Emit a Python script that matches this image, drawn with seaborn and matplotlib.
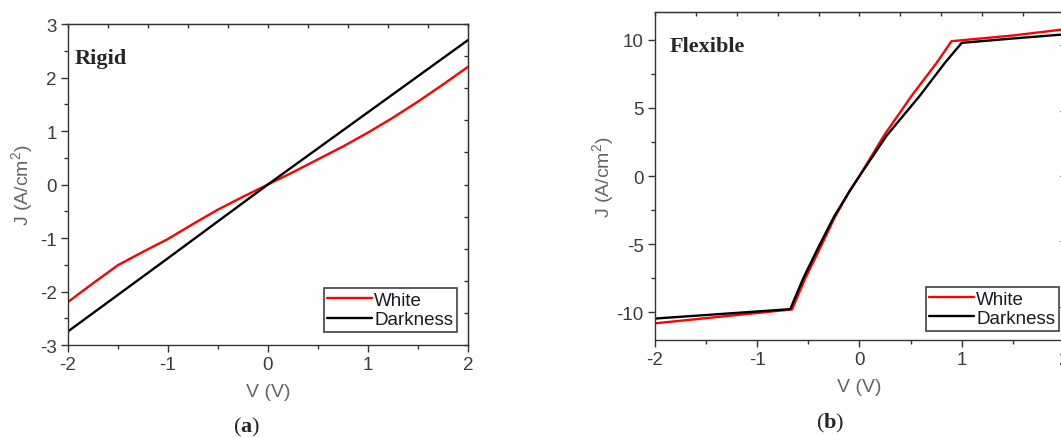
import pandas as pd
import matplotlib.pyplot as plt
import seaborn as sns
import numpy as np
from matplotlib.ticker import MultipleLocator, NullFormatter

# Rigid device (a)
v_rigid_white = [-2, -1.75, -1.5, -1.25, -1, -0.75, -0.5, -0.25, 0, 0.25, 0.5, 0.75, 1, 1.25, 1.5, 1.75, 2]
j_rigid_white = [-2.2, -1.85, -1.51, -1.26, -1.02, -0.74, -0.47, -0.23, 0, 0.23, 0.47, 0.71, 0.97, 1.25, 1.55, 1.87, 2.2]
v_rigid_dark = [-2, -1, 0, 1, 2]
j_rigid_dark = [-2.75, -1.38, 0, 1.35, 2.7]

# Flexible device (b)
v_flex_white = [-2, -1.5, -1, -0.66, -0.53, -0.38, -0.24, -0.1, 0, 0.24, 0.51, 0.755, 0.9, 1.5, 2]
j_flex_white = [-10.8, -10.42, -10.04, -9.78, -7.5, -5.2, -3.0, -1.15, 0, 2.97, 5.88, 8.3, 9.88, 10.3, 10.75]
v_flex_dark = [-2, -1.5, -1, -0.677, -0.55, -0.4, -0.25, -0.1, 0, 0.267, 0.59, 0.836, 1.0, 1.5, 2]
j_flex_dark = [-10.45, -10.19, -9.93, -9.76, -7.5, -5.2, -3.0, -1.15, 0, 2.97, 5.88, 8.3, 9.76, 10.08, 10.38]

sns.set_style("ticks")
plt.rcParams['font.family'] = ['Liberation Sans', 'DejaVu Sans']
plt.rcParams['axes.unicode_minus'] = False
plt.rcParams['mathtext.fontset'] = 'custom'
plt.rcParams['mathtext.rm'] = 'Liberation Sans'
plt.rcParams['mathtext.bf'] = 'Liberation Serif:bold'

tick_col = '#3c3a48'
label_col = '#666666'
spine_col = '#333333'

fig = plt.figure(figsize=(10.61, 4.39), dpi=100)
ax_a = fig.add_axes([0.0638, 0.2118, 0.3773, 0.7312])
ax_b = fig.add_axes([0.6173, 0.2239, 0.3855, 0.7458])


def draw(ax, vw, jw, vd, jd, ypad):
    df = pd.concat([
        pd.DataFrame({"V": vw, "J": jw, "Light": "White"}),
        pd.DataFrame({"V": vd, "J": jd, "Light": "Darkness"}),
    ])
    sns.lineplot(data=df, x="V", y="J", hue="Light", palette={"White": "#ff0000", "Darkness": "#000000"},
                 sort=False, estimator=None, linewidth=1.7, ax=ax)
    for s in ax.spines.values():
        s.set_color(spine_col)
        s.set_linewidth(1.0)
    ax.set_xlim(-2, 2)
    ax.xaxis.set_major_locator(MultipleLocator(1))
    ax.xaxis.set_minor_locator(MultipleLocator(0.5))
    ax.tick_params(which='major', direction='out', length=5, width=1, color=spine_col,
                   labelsize=13.5, labelcolor=tick_col, pad=3)
    ax.tick_params(which='minor', direction='out', length=3, width=1, color=spine_col)
    ax.set_xlabel("V (V)", fontsize=14, color=label_col, labelpad=7)
    ax.set_ylabel("J (A/cm$^2$)", fontsize=14, color=label_col, labelpad=ypad)
    ax.grid(False)
    # inward ticks on the top and right frame
    top = ax.secondary_xaxis('top')
    top.xaxis.set_major_locator(MultipleLocator(0.4))
    top.xaxis.set_major_formatter(NullFormatter())
    top.tick_params(direction='in', length=3, width=1, color=spine_col)
    top.spines['top'].set_color(spine_col)
    right = ax.secondary_yaxis('right')
    return right


r = draw(ax_a, v_rigid_white, j_rigid_white, v_rigid_dark, j_rigid_dark, 3)
ax_a.set_ylim(-3, 3)
ax_a.yaxis.set_major_locator(MultipleLocator(1))
ax_a.yaxis.set_minor_locator(MultipleLocator(0.5))
r.yaxis.set_major_locator(MultipleLocator(0.6))
r.yaxis.set_major_formatter(NullFormatter())
r.tick_params(direction='in', length=3, width=1, color=spine_col)
r.spines['right'].set_color(spine_col)

r = draw(ax_b, v_flex_white, j_flex_white, v_flex_dark, j_flex_dark, 0)
ax_b.set_ylim(-12, 12)
ax_b.yaxis.set_major_locator(MultipleLocator(5))
ax_b.yaxis.set_minor_locator(MultipleLocator(2.5))
r.yaxis.set_major_locator(MultipleLocator(4.8))
r.yaxis.set_major_formatter(NullFormatter())
r.tick_params(direction='in', length=3, width=1, color=spine_col)
r.spines['right'].set_color(spine_col)

# legends
for ax, anchor in [(ax_a, (0.9725, 0.0405)), (ax_b, (0.988, 0.0275))]:
    h, l = ax.get_legend_handles_labels()
    leg = ax.legend(h, l, loc='lower right', bbox_to_anchor=anchor, borderaxespad=0,
                    fontsize=13.5, frameon=True, fancybox=False, edgecolor='#111111',
                    handlelength=2.4, handletextpad=0.1, labelspacing=0.12, borderpad=0.2)
    leg.get_frame().set_linewidth(1.2)
    for t in leg.get_texts():
        t.set_color('#1a1a2a')

ax_a.text(0.018, 0.893, "Rigid", transform=ax_a.transAxes, fontsize=16, fontweight='bold',
          family='Liberation Serif', va='center', ha='left')
ax_b.text(0.037, 0.898, "Flexible", transform=ax_b.transAxes, fontsize=16, fontweight='bold',
          family='Liberation Serif', va='center', ha='left')

fig.text(0.232, 0.027, r"($\mathbf{a}$)", fontsize=16, family='Liberation Serif', ha='center', va='center')
fig.text(0.782, 0.036, r"($\mathbf{b}$)", fontsize=16, family='Liberation Serif', ha='center', va='center')

fig.savefig("out.png", dpi=100)
